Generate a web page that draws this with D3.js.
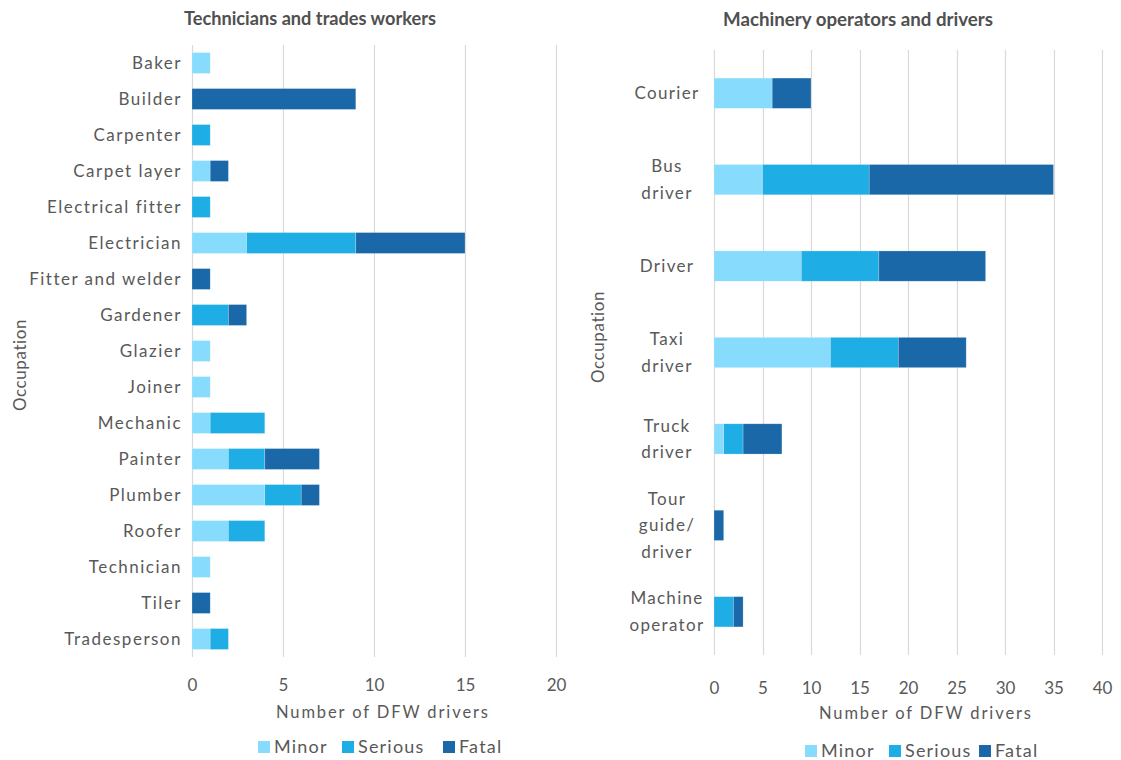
<!DOCTYPE html>
<html>
<head>
<meta charset="utf-8">
<script src="https://cdn.jsdelivr.net/npm/d3@7"></script>
<style>
  html, body { margin: 0; padding: 0; background: #ffffff; }
  svg { display: block; font-family: "Lato", "Open Sans", sans-serif; }
</style>
</head>
<body>
<svg id="chart" width="1121" height="760"></svg>
<script>
// Severity series shared by both panels
const severities = ["Minor", "Serious", "Fatal"];
const severityColors = ["#87dbfc", "#1eade5", "#1a68a8"];

// Technicians and trades workers
const tradeOccupations = ["Baker", "Builder", "Carpenter", "Carpet layer", "Electrical fitter",
  "Electrician", "Fitter and welder", "Gardener", "Glazier", "Joiner", "Mechanic", "Painter",
  "Plumber", "Roofer", "Technician", "Tiler", "Tradesperson"];
const tradeMinor   = [1, 0, 0, 1, 0, 3, 0, 0, 1, 1, 1, 2, 4, 2, 1, 0, 1];
const tradeSerious = [0, 0, 1, 0, 1, 6, 0, 2, 0, 0, 3, 2, 2, 2, 0, 0, 1];
const tradeFatal   = [0, 9, 0, 1, 0, 6, 1, 1, 0, 0, 0, 3, 1, 0, 0, 1, 0];
const tradeTicks = [0, 5, 10, 15, 20];

// Machinery operators and drivers
const driverOccupations = ["Courier", "Bus driver", "Driver", "Taxi driver", "Truck driver",
  "Tour guide/ driver", "Machine operator"];
const driverLabelLines = [["Courier"], ["Bus", "driver"], ["Driver"], ["Taxi", "driver"],
  ["Truck", "driver"], ["Tour", "guide/", "driver"], ["Machine", "operator"]];
const driverMinor   = [6, 5, 9, 12, 1, 0, 0];
const driverSerious = [0, 11, 8, 7, 2, 0, 2];
const driverFatal   = [4, 19, 11, 7, 4, 1, 1];
const driverTicks = [0, 5, 10, 15, 20, 25, 30, 35, 40];

const svg = d3.select("#chart");
const textColor = "#595959";
const gridColor = "#d9d9d9";

function drawPanel(cfg) {
  const g = svg.append("g");
  const rows = cfg.categories.map((c, i) => ({
    name: c, Minor: cfg.minor[i], Serious: cfg.serious[i], Fatal: cfg.fatal[i]
  }));

  const x = d3.scaleLinear().domain([0, cfg.max]).range([cfg.x0, cfg.x1]);
  const y = d3.scaleBand().domain(cfg.categories).range([cfg.y0, cfg.y1]).paddingInner(cfg.pad).paddingOuter(cfg.pad / 2);
  const color = d3.scaleOrdinal().domain(severities).range(severityColors);

  // vertical gridlines
  g.append("g").selectAll("line").data(cfg.ticks).join("line")
    .attr("x1", d => Math.round(x(d)) + 0.5).attr("x2", d => Math.round(x(d)) + 0.5)
    .attr("y1", cfg.y0).attr("y2", cfg.y1)
    .attr("stroke", gridColor).attr("stroke-width", 1.2);

  // stacked bars
  const stack = d3.stack().keys(severities)(rows);
  g.append("g").selectAll("g").data(stack).join("g")
    .attr("fill", d => color(d.key))
    .selectAll("rect").data(d => d.filter(p => p[1] - p[0] > 0)).join("rect")
    .attr("x", d => x(d[0]))
    .attr("width", d => x(d[1]) - x(d[0]))
    .attr("y", d => y(d.data.name))
    .attr("height", y.bandwidth())
    .attr("stroke", "#ffffff").attr("stroke-opacity", 0.35).attr("stroke-width", 0.6);

  // value axis tick labels
  const xAxis = d3.axisBottom(x).tickValues(cfg.ticks).tickSize(0).tickPadding(0);
  const ax = g.append("g").attr("transform", `translate(0,${cfg.tickY})`).call(xAxis);
  ax.select(".domain").remove();
  ax.selectAll("text").attr("fill", textColor).attr("font-size", 17)
    .attr("font-family", "Lato, sans-serif").attr("dy", 0);

  // category labels
  const cats = g.append("g");
  cfg.categories.forEach((c, i) => {
    const lines = cfg.lines ? cfg.lines[i] : [c];
    const cy = y(c) + y.bandwidth() / 2;
    const lh = cfg.lineHeight;
    const t = cats.append("text")
      .attr("x", cfg.labelX)
      .attr("text-anchor", cfg.labelAnchor)
      .attr("fill", textColor).attr("font-size", cfg.labelSize)
      .attr("letter-spacing", cfg.labelSpacing);
    lines.forEach((ln, k) => {
      t.append("tspan").attr("x", cfg.labelX)
        .attr("y", cy + (k - (lines.length - 1) / 2) * lh)
        .attr("dy", "0.35em").text(ln);
    });
  });

  // panel title
  g.append("text").attr("x", cfg.titleX).attr("y", cfg.titleY)
    .attr("text-anchor", "middle").attr("font-weight", "bold").attr("font-size", 18)
    .attr("fill", "#505050")
    .attr("textLength", cfg.titleWidth).attr("lengthAdjust", "spacingAndGlyphs")
    .text(cfg.title);

  // value axis title
  g.append("text").attr("x", cfg.axisTitleX).attr("y", cfg.axisTitleY)
    .attr("text-anchor", "middle").attr("font-size", 16.5).attr("fill", textColor)
    .attr("textLength", 212).attr("lengthAdjust", "spacing")
    .text("Number of DFW drivers");

  // category axis title
  g.append("text")
    .attr("transform", `translate(${cfg.occX},${cfg.occY}) rotate(-90)`)
    .attr("text-anchor", "middle").attr("font-size", 17).attr("fill", textColor)
    .attr("dy", "0.35em").attr("letter-spacing", 0.6)
    .text("Occupation");

  // legend
  const lg = g.append("g").attr("transform", `translate(${cfg.legendX},${cfg.legendY})`);
  severities.forEach((s, i) => {
    const item = lg.append("g").attr("transform", `translate(${cfg.legendOffsets[i]},0)`);
    item.append("rect").attr("x", 0).attr("y", -6).attr("width", 12).attr("height", 12)
      .attr("fill", color(s));
    item.append("text").attr("x", 16).attr("y", 0).attr("dy", "0.35em")
      .attr("font-size", 18).attr("letter-spacing", 1.2).attr("fill", textColor).text(s);
  });
}

drawPanel({
  categories: tradeOccupations, minor: tradeMinor, serious: tradeSerious, fatal: tradeFatal,
  ticks: tradeTicks, max: 20, x0: 192, x1: 556, y0: 45, y1: 657, pad: 0.42,
  tickY: 691, labelX: 182, labelAnchor: "end", labelSize: 17, labelSpacing: 1.5,
  lineHeight: 0,
  title: "Technicians and trades workers", titleX: 310, titleY: 25, titleWidth: 252,
  axisTitleX: 382, axisTitleY: 718, occX: 20, occY: 365,
  legendX: 258, legendY: 747, legendOffsets: [0, 84, 185]
});

drawPanel({
  categories: driverOccupations, minor: driverMinor, serious: driverSerious, fatal: driverFatal,
  ticks: driverTicks, max: 40, x0: 714, x1: 1102, y0: 50, y1: 655, pad: 0.65,
  tickY: 694, labelX: 667, labelAnchor: "middle", labelSize: 17, labelSpacing: 1.3,
  lines: driverLabelLines, lineHeight: 26.5,
  title: "Machinery operators and drivers", titleX: 858, titleY: 26, titleWidth: 270,
  axisTitleX: 925, axisTitleY: 719, occX: 598, occY: 337,
  legendX: 805, legendY: 751, legendOffsets: [0, 84, 174]
});
</script>
</body>
</html>
